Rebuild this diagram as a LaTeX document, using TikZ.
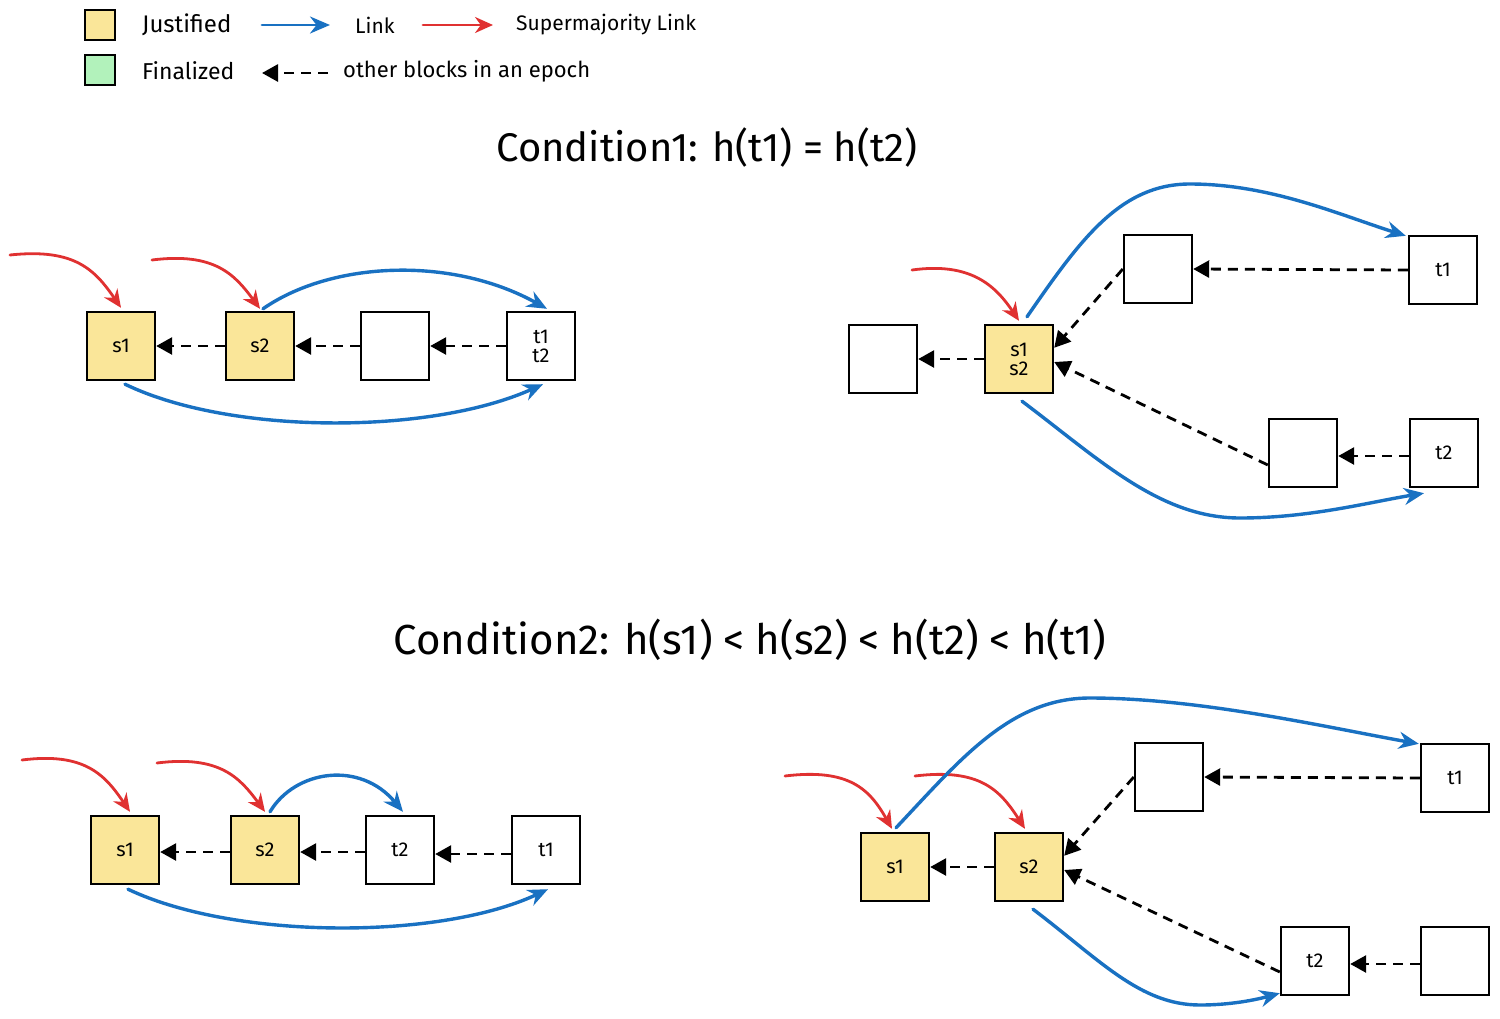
\documentclass[tikz,border=0pt]{standalone}
\usepackage{fontspec}
\setmainfont{Fira Sans}
\usetikzlibrary{arrows.meta,calc}
\definecolor{jyellow}{HTML}{FAE699}
\definecolor{fgreen}{HTML}{B2F2BB}
\definecolor{lblue}{HTML}{1971C2}
\definecolor{sred}{HTML}{E03131}
\tikzset{
  blk/.style={draw=black, line width=2.4pt, minimum width=68pt, minimum height=68pt, inner sep=0pt, fill=white, font=\fontsize{20}{22}\selectfont, align=center},
  jblk/.style={blk, fill=jyellow},
  lgbox/.style={draw=black, line width=2.4pt, minimum width=30pt, minimum height=30pt, inner sep=0pt},
  lgtext/.style={anchor=west, font=\fontsize{21}{25}\selectfont, inner sep=0pt},
  ttl/.style={font=\fontsize{40}{46}\selectfont, inner sep=0pt},
  bluelink/.style={draw=lblue, line width=3.4pt, -{Stealth[length=20pt,width=17pt]}, line cap=round},
  redlink/.style={draw=sred, line width=2.8pt, -{Stealth[length=18pt,width=16pt]}, line cap=round},
  dashlink/.style={draw=black, line width=2.8pt, dash pattern=on 10pt off 7pt, -{Triangle[length=16pt,width=17pt]}},
}
\begin{document}
\begin{tikzpicture}[x=1pt,y=-1pt]
\useasboundingbox[fill=white] (0,0) rectangle (1500,1018);

% ---------- legend ----------
\node[lgbox, fill=jyellow] (lgj) at (100,25) {};
\node[lgbox, fill=fgreen] (lgf) at (100,70) {};
\node[lgtext, font=\fontsize{24}{28}\selectfont] (tj) at (142,25) {Justified};
\node[lgtext, font=\fontsize{23}{28}\selectfont] (tf) at (142,71) {Finalized};
\coordinate (lb1) at (262,25); \coordinate (lb2) at (330,25);
\draw[bluelink, line width=2.8pt] (lb1) -- (lb2);
\node[lgtext] (tl) at (355,25) {Link};
\coordinate (lr1) at (423,25); \coordinate (lr2) at (493,25);
\draw[redlink] (lr1) -- (lr2);
\node[lgtext] (ts) at (516,25) {Supermajority Link};
\coordinate (ld1) at (328,73); \coordinate (ld2) at (262,73);
\draw[dashlink] (ld1) -- (ld2);
\node[lgtext, font=\fontsize{22}{26}\selectfont] (to) at (343,71) {other blocks in an epoch};

% ---------- titles ----------
\node[ttl] (title1) at (707,147) {Condition1: h(t1) = h(t2)};
\node[ttl, font=\fontsize{42}{48}\selectfont] (title2) at (750,640) {Condition2: h(s1) < h(s2) < h(t2) < h(t1)};

% ---------- top-left ----------
\node[jblk] (a1) at (121,346) {s1};
\node[jblk] (a2) at (260,346) {s2};
\node[blk]  (a3) at (395,346) {};
\node[blk]  (a4) at (541,346) {t1\\[-3pt]t2};
\draw[dashlink] (a4.west) -- (a3.east);
\draw[dashlink] (a3.west) -- (a2.east);
\draw[dashlink] (a2.west) -- (a1.east);
\coordinate (ar1) at (10,255);
\coordinate (ar2) at (152,260);
\draw[redlink] (ar1) .. controls (75,248) and (95,270) .. ([yshift=3pt]a1.north);
\draw[redlink] (ar2) .. controls (215,252) and (235,275) .. ([yshift=2pt]a2.north);
\draw[bluelink] ([xshift=3pt,yshift=2pt]a2.north) .. controls (330,262) and (450,255) .. ([xshift=6pt,yshift=2pt]a4.north);
\draw[bluelink] ([xshift=4pt,yshift=-3pt]a1.south) .. controls (230,435) and (430,435) .. ([xshift=2pt,yshift=-3pt]a4.south);

% ---------- top-right ----------
\node[blk]  (b0) at (883,359) {};
\node[jblk] (b1) at (1019,359) {s1\\[-3pt]s2};
\node[blk]  (b2) at (1158,269) {};
\node[blk]  (b3) at (1443,270) {t1};
\node[blk]  (b4) at (1303,453) {};
\node[blk]  (b5) at (1444,453) {t2};
\draw[dashlink] (b1.west) -- (b0.east);
\draw[dashlink] (b3.west) -- (b2.east);
\draw[dashlink] (b2.west) -- ([yshift=-24pt]b1.north east);
\draw[dashlink] ([yshift=-12pt]b4.west) -- ([yshift=-3pt]b1.east);
\draw[dashlink] ([yshift=-3pt]b5.west) -- ([yshift=-3pt]b4.east);
\coordinate (br1) at (912,270);
\draw[redlink] (br1) .. controls (970,262) and (995,285) .. ([yshift=3pt]b1.north);
\draw[bluelink] ([xshift=8pt,yshift=7pt]b1.north) .. controls (1080,240) and (1120,184) .. (1190,184) .. controls (1270,184) and (1340,215) .. ([xshift=-2pt,yshift=-1pt]b3.north west);
\draw[bluelink] ([xshift=3pt,yshift=-7pt]b1.south) .. controls (1100,460) and (1160,518) .. (1240,518) .. controls (1310,518) and (1370,502) .. ([xshift=-20pt,yshift=-5pt]b5.south);

% ---------- bottom-left ----------
\node[jblk] (c1) at (125,850) {s1};
\node[jblk] (c2) at (265,850) {s2};
\node[blk]  (c3) at (400,850) {t2};
\node[blk]  (c4) at (546,850) {t1};
\draw[dashlink] ([yshift=-4pt]c4.west) -- ([yshift=-4pt]c3.east);
\draw[dashlink] ([yshift=-2pt]c3.west) -- ([yshift=-2pt]c2.east);
\draw[dashlink] ([yshift=-2pt]c2.west) -- ([yshift=-2pt]c1.east);
\coordinate (cr1) at (22,760);
\coordinate (cr2) at (157,763);
\draw[redlink] (cr1) .. controls (85,752) and (105,775) .. ([xshift=5pt,yshift=3pt]c1.north);
\draw[redlink] (cr2) .. controls (220,755) and (240,778) .. ([yshift=3pt]c2.north);
\draw[bluelink] ([xshift=5pt,yshift=3pt]c2.north) .. controls (295,770) and (360,760) .. ([xshift=3pt,yshift=3pt]c3.north);
\draw[bluelink] ([xshift=3pt,yshift=-4pt]c1.south) .. controls (235,940) and (440,940) .. ([xshift=2pt,yshift=-4pt]c4.south);

% ---------- bottom-right ----------
\node[jblk] (d1) at (895,867) {s1};
\node[jblk] (d2) at (1029,867) {s2};
\node[blk]  (d3) at (1169,777) {};
\node[blk]  (d4) at (1455,778) {t1};
\node[blk]  (d5) at (1315,961) {t2};
\node[blk]  (d6) at (1455,961) {};
\draw[dashlink] (d2.west) -- (d1.east);
\draw[dashlink] (d4.west) -- (d3.east);
\draw[dashlink] (d3.west) -- ([yshift=-24pt]d2.north east);
\draw[dashlink] ([yshift=-11pt]d5.west) -- ([yshift=-3pt]d2.east);
\draw[dashlink] ([yshift=-3pt]d6.west) -- ([yshift=-3pt]d5.east);
\coordinate (dr1) at (785,776);
\coordinate (dr2) at (915,776);
\draw[redlink] (dr1) .. controls (850,768) and (870,790) .. ([xshift=-3pt,yshift=3pt]d1.north);
\draw[redlink] (dr2) .. controls (980,768) and (1000,790) .. ([xshift=-4pt,yshift=3pt]d2.north);
\draw[bluelink] ([xshift=1pt,yshift=4pt]d1.north) .. controls (960,760) and (1010,698) .. (1090,698) .. controls (1200,698) and (1330,728) .. ([xshift=-1pt,yshift=-1pt]d4.north west);
\draw[bluelink] ([xshift=4pt,yshift=-7pt]d2.south) .. controls (1100,960) and (1140,1005) .. (1200,1005) .. controls (1230,1005) and (1255,1000) .. ([yshift=3pt]d5.south west);
\end{tikzpicture}
\end{document}
